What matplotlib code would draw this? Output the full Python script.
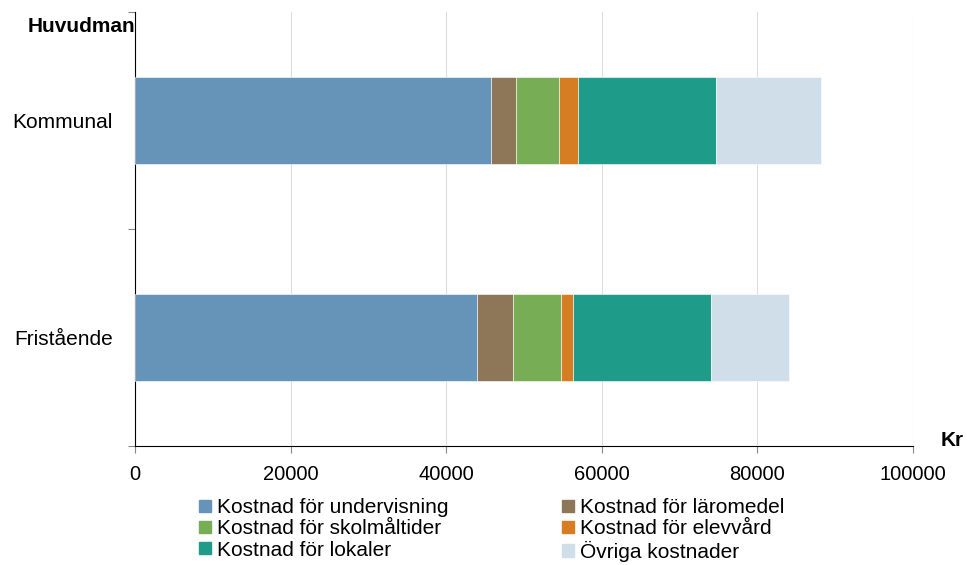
import matplotlib
matplotlib.use("Agg")
import matplotlib.pyplot as plt
from matplotlib.patches import Patch

plt.rcParams['font.family'] = ['Liberation Sans', 'DejaVu Sans']

huvudman = ['Kommunal', 'Fristående']
kategorier = ['Kostnad för undervisning', 'Kostnad för läromedel',
              'Kostnad för skolmåltider', 'Kostnad för elevvård',
              'Kostnad för lokaler', 'Övriga kostnader']
undervisning = [45700, 44000]
laromedel = [3300, 4600]
skolmaltider = [5550, 6200]
elevvard = [2450, 1550]
lokaler = [17650, 17700]
ovriga = [13500, 9950]
farger = ['#6694b8', '#8e7758', '#76ad55', '#d67d24', '#1f9c89', '#d0dee9']

serier = [undervisning, laromedel, skolmaltider, elevvard, lokaler, ovriga]

fig = plt.figure(figsize=(9.67, 5.65), dpi=100)
ax = fig.add_axes([135 / 967, 1 - 446 / 565, (913 - 135) / 967, (446 - 12) / 565])

ypos = [0, 1]
left = [0, 0]
for vals, c in zip(serier, farger):
    ax.barh(ypos, vals, left=left, height=0.4, color=c, edgecolor='white',
            linewidth=0.4, zorder=3)
    left = [l + v for l, v in zip(left, vals)]

ax.set_xlim(0, 100000)
ax.set_ylim(1.5, -0.5)
ax.set_xticks(range(0, 100001, 20000))
ax.tick_params(axis='x', labelsize=14.5, length=5, color='#888888', pad=9)
ax.grid(axis='x', color='#dddddd', linewidth=0.8, zorder=0)

ax.set_yticks([-0.5, 0.5, 1.5])
ax.set_yticklabels([])
ax.set_yticks(ypos, minor=True)
ax.set_yticklabels(huvudman, minor=True, fontsize=15)
ax.tick_params(axis='y', which='major', length=5, color='#888888')
ax.tick_params(axis='y', which='minor', length=0, pad=16)

for s in ['top', 'right']:
    ax.spines[s].set_visible(False)
ax.spines['left'].set_color('black')
ax.spines['bottom'].set_color('black')

fig.text(135 / 967, 1 - 27 / 565, 'Huvudman', ha='right', va='center',
         fontsize=15, fontweight='bold')
fig.text(964 / 967, 1 - 440 / 565, 'Kr', ha='right', va='center',
         fontsize=15, fontweight='bold')

# legenden fylls radvis som i originalet
ordning = [0, 2, 4, 1, 3, 5]
handles = [Patch(color=farger[i], label=kategorier[i]) for i in ordning]
fig.legend(handles=handles, ncol=2, loc='upper left',
           bbox_to_anchor=(189 / 967, 1 - 488 / 565), frameon=False,
           fontsize=15, handlelength=0.55, handleheight=0.55, handletextpad=0.3,
           columnspacing=5.45, labelspacing=0.1, borderpad=0)

fig.savefig('out.png', dpi=100)
